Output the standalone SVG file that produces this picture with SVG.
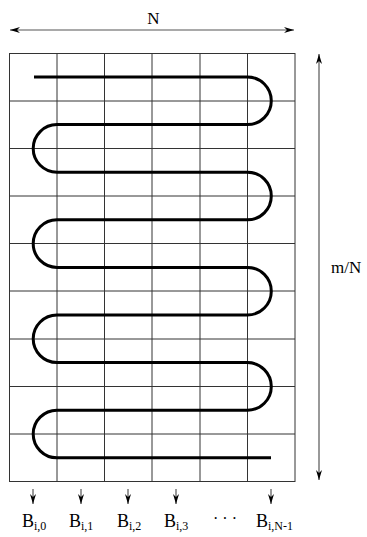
<svg xmlns="http://www.w3.org/2000/svg" width="367" height="537" viewBox="0 0 367 537">
  <style>
    .grid { fill: none; stroke: #333; stroke-width: 1; }
    .snake { fill: none; stroke: #000; stroke-width: 3; }
    .dim { fill: none; stroke: #555; stroke-width: 1.2; }
    .lbl { font-family: "Liberation Serif", "Times New Roman", serif; fill: #000; }
  </style>
  <defs>
    <marker id="head" viewBox="0 0 10 10" refX="10" refY="5" markerWidth="10" markerHeight="10" markerUnits="userSpaceOnUse" orient="auto-start-reverse">
      <path d="M0,2 L10,5 L0,8 L3,5 Z" fill="#000"/>
    </marker>
  </defs>

  <!-- matrix grid: 6 columns x 9 rows -->
  <g id="grid">
    <rect class="grid" x="9.5" y="53.5" width="285.5" height="428"/>
    <path class="grid" d="M57,53.5V481.5 M104.5,53.5V481.5 M152,53.5V481.5 M200,53.5V481.5 M247.5,53.5V481.5"/>
    <path class="grid" d="M9.5,101H295 M9.5,148.5H295 M9.5,196H295 M9.5,243.5H295 M9.5,291H295 M9.5,339H295 M9.5,386.5H295 M9.5,434H295"/>
  </g>

  <!-- serpentine traversal -->
  <g id="snake">
    <path class="snake" d="M34,77 H247.5 A23.8,23.8 0 0 1 247.5,124.6 H57 A23.8,23.8 0 0 0 57,172.2 H247.5 A23.8,23.8 0 0 1 247.5,219.8 H57 A23.8,23.8 0 0 0 57,267.4 H247.5 A23.8,23.8 0 0 1 247.5,315 H57 A23.8,23.8 0 0 0 57,362.6 H247.5 A23.8,23.8 0 0 1 247.5,410.2 H57 A23.8,23.8 0 0 0 57,457.8 H271"/>
  </g>

  <!-- dimension arrows -->
  <g id="connectors">
    <line class="dim" x1="10" y1="30" x2="294" y2="30" marker-start="url(#head)" marker-end="url(#head)"/>
    <line class="dim" x1="319" y1="54" x2="319" y2="480" marker-start="url(#head)" marker-end="url(#head)"/>
    <line class="dim" x1="33" y1="489" x2="33" y2="504" marker-end="url(#head)"/>
    <line class="dim" x1="81" y1="489" x2="81" y2="504" marker-end="url(#head)"/>
    <line class="dim" x1="128" y1="489" x2="128" y2="504" marker-end="url(#head)"/>
    <line class="dim" x1="176" y1="489" x2="176" y2="504" marker-end="url(#head)"/>
    <line class="dim" x1="271" y1="489" x2="271" y2="504" marker-end="url(#head)"/>
  </g>

  <g id="labels">
    <text class="lbl" x="153.5" y="24" font-size="17" text-anchor="middle">N</text>
    <text class="lbl" x="331" y="273" font-size="17">m/N</text>
    <text class="lbl" x="22" y="527" font-size="18">B<tspan font-size="12" dy="3">i,0</tspan></text>
    <text class="lbl" x="69" y="527" font-size="18">B<tspan font-size="12" dy="3">i,1</tspan></text>
    <text class="lbl" x="117" y="527" font-size="18">B<tspan font-size="12" dy="3">i,2</tspan></text>
    <text class="lbl" x="164" y="527" font-size="18">B<tspan font-size="12" dy="3">i,3</tspan></text>
    <text class="lbl" x="213" y="524" font-size="16" letter-spacing="4">···</text>
    <text class="lbl" x="256" y="527" font-size="18">B<tspan font-size="12" dy="3">i,N-1</tspan></text>
  </g>
</svg>
